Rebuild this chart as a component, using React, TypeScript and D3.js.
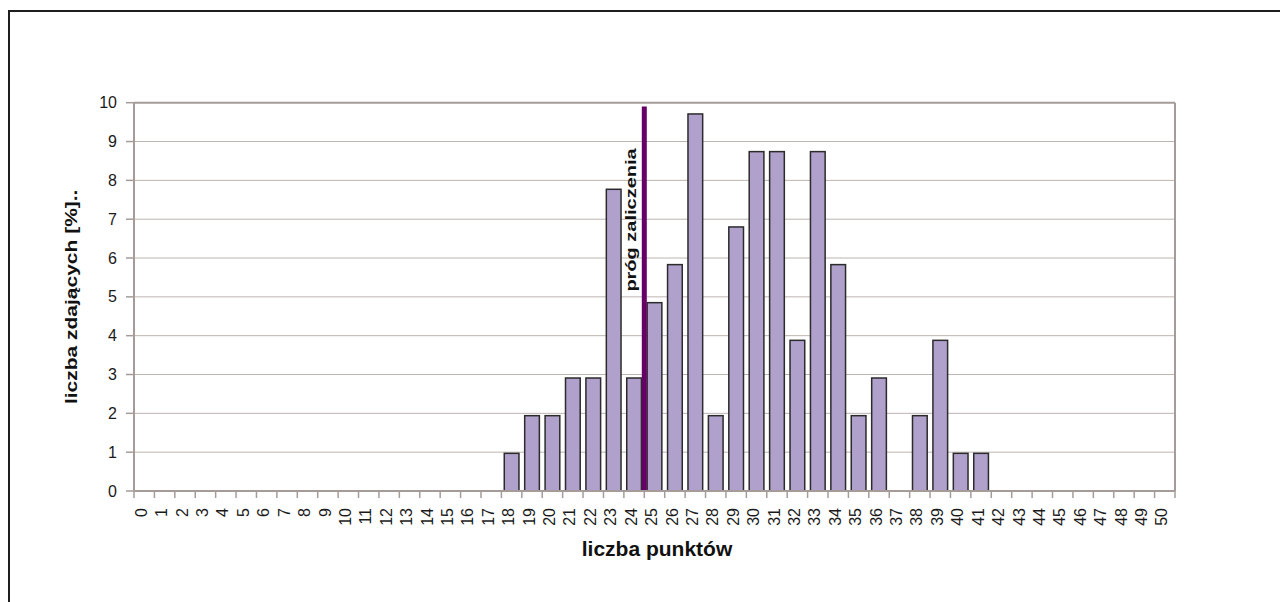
import React from "react";
import * as d3 from "d3";

const pointLabels: string[] = [
  "0","1","2","3","4","5","6","7","8","9","10","11","12","13","14","15","16","17","18","19",
  "20","21","22","23","24","25","26","27","28","29","30","31","32","33","34","35","36","37","38","39",
  "40","41","42","43","44","45","46","47","48","49","50",
];

const percentValues: number[] = [
  0,0,0,0,0,0,0,0,0,0,
  0,0,0,0,0,0,0,0,0.97,1.94,
  1.94,2.91,2.91,7.77,2.91,4.85,5.83,9.71,1.94,6.80,
  8.74,8.74,3.88,8.74,5.83,1.94,2.91,0,1.94,3.88,
  0.97,0.97,0,0,0,0,0,0,0,0,
  0,
];

const yTicks: number[] = [0,1,2,3,4,5,6,7,8,9,10];

const thresholdCategory = "25";
const thresholdTop = 9.9;
const thresholdLabel = "próg zaliczenia";
const yTitle = "liczba zdających [%]..";
const xTitle = "liczba punktów";

const FONT = "'Liberation Sans', Arial, sans-serif";

export default function App() {
  const left = 134, right = 1175, top = 102.7, bottom = 491;

  const x = d3.scaleBand<string>()
    .domain(pointLabels)
    .range([left, right])
    .paddingInner(0.28)
    .paddingOuter(0.14);
  const y = d3.scaleLinear().domain([0, 10]).range([bottom, top]);

  const step = x.step();
  const gap = step - x.bandwidth();
  const boundaries = d3.range(pointLabels.length + 1).map((i) =>
    i < pointLabels.length ? (x(pointLabels[i]) as number) - gap / 2 : right
  );
  const thrX = (x(thresholdCategory) as number) - gap / 2;

  const gridColor = "#bcb4b1";
  const axisColor = "#a59c99";

  return (
    <svg
      width={1280}
      height={602}
      style={{ position: "absolute", left: 0, top: 0, background: "#fff" }}
    >
      <rect x={0} y={0} width={1280} height={602} fill="#fff" />
      {/* outer chart frame */}
      <rect x={9} y={11} width={1400} height={700} fill="none" stroke="#1e1e1e" strokeWidth={2} />

      {/* gridlines */}
      {yTicks.filter((t) => t > 0 && t < 10).map((t) => (
        <line key={"g" + t} x1={left} x2={right} y1={y(t)} y2={y(t)} stroke={gridColor} strokeWidth={1} />
      ))}
      {/* plot border top & right */}
      <line x1={left} x2={right} y1={y(10)} y2={y(10)} stroke={axisColor} strokeWidth={2} />
      <line x1={right} x2={right} y1={y(10)} y2={y(0)} stroke={axisColor} strokeWidth={2} />

      {/* bars */}
      {percentValues.map((v, i) =>
        v > 0 ? (
          <rect
            key={"b" + i}
            x={x(pointLabels[i])}
            y={y(v)}
            width={x.bandwidth()}
            height={y(0) - y(v)}
            fill="#b0a0cc"
            stroke="#2b2b2b"
            strokeWidth={1.5}
          />
        ) : null
      )}

      {/* threshold line */}
      <line x1={thrX} x2={thrX} y1={y(0)} y2={y(thresholdTop)} stroke="#660066" strokeWidth={5} />
      <text
        transform={`translate(${thrX - 8.5},${220}) scale(0.72,1) rotate(-90)`}
        textAnchor="middle"
        fontFamily={FONT}
        fontWeight="bold"
        fontSize={20}
        fill="#111"
      >
        {thresholdLabel}
      </text>

      {/* axes */}
      <line x1={left} x2={left} y1={y(10)} y2={y(0)} stroke={axisColor} strokeWidth={2} />
      <line x1={left} x2={right} y1={y(0)} y2={y(0)} stroke={axisColor} strokeWidth={2} />

      {/* y ticks */}
      {yTicks.map((t) => (
        <g key={"yt" + t}>
          <line x1={left - 8} x2={left} y1={y(t)} y2={y(t)} stroke={axisColor} strokeWidth={1.5} />
          <text
            x={117}
            y={y(t)}
            dy="0.35em"
            textAnchor="end"
            fontFamily={FONT}
            fontSize={16}
            fill="#1a1a1a"
          >
            {t}
          </text>
        </g>
      ))}

      {/* x ticks */}
      {boundaries.map((bx, i) => (
        <line key={"xt" + i} x1={bx} x2={bx} y1={y(0)} y2={y(0) + 7} stroke={axisColor} strokeWidth={1.5} />
      ))}
      {pointLabels.map((lab) => {
        const cx = (x(lab) as number) + x.bandwidth() / 2 - 3;
        return (
          <text
            key={"xl" + lab}
            transform={`translate(${cx},${508}) rotate(-90)`}
            dy="0.35em"
            textAnchor="end"
            fontFamily={FONT}
            fontSize={16}
            fill="#1a1a1a"
          >
            {lab}
          </text>
        );
      })}

      {/* axis titles */}
      <text
        transform={`translate(77,${(top + bottom) / 2}) scale(0.8,1) rotate(-90)`}
        textAnchor="middle"
        fontFamily={FONT}
        fontWeight="bold"
        fontSize={21}
        fill="#111"
      >
        {yTitle}
      </text>
      <text
        x={657}
        y={556}
        textAnchor="middle"
        fontFamily={FONT}
        fontWeight="bold"
        fontSize={21}
        fill="#111"
      >
        {xTitle}
      </text>
    </svg>
  );
}
